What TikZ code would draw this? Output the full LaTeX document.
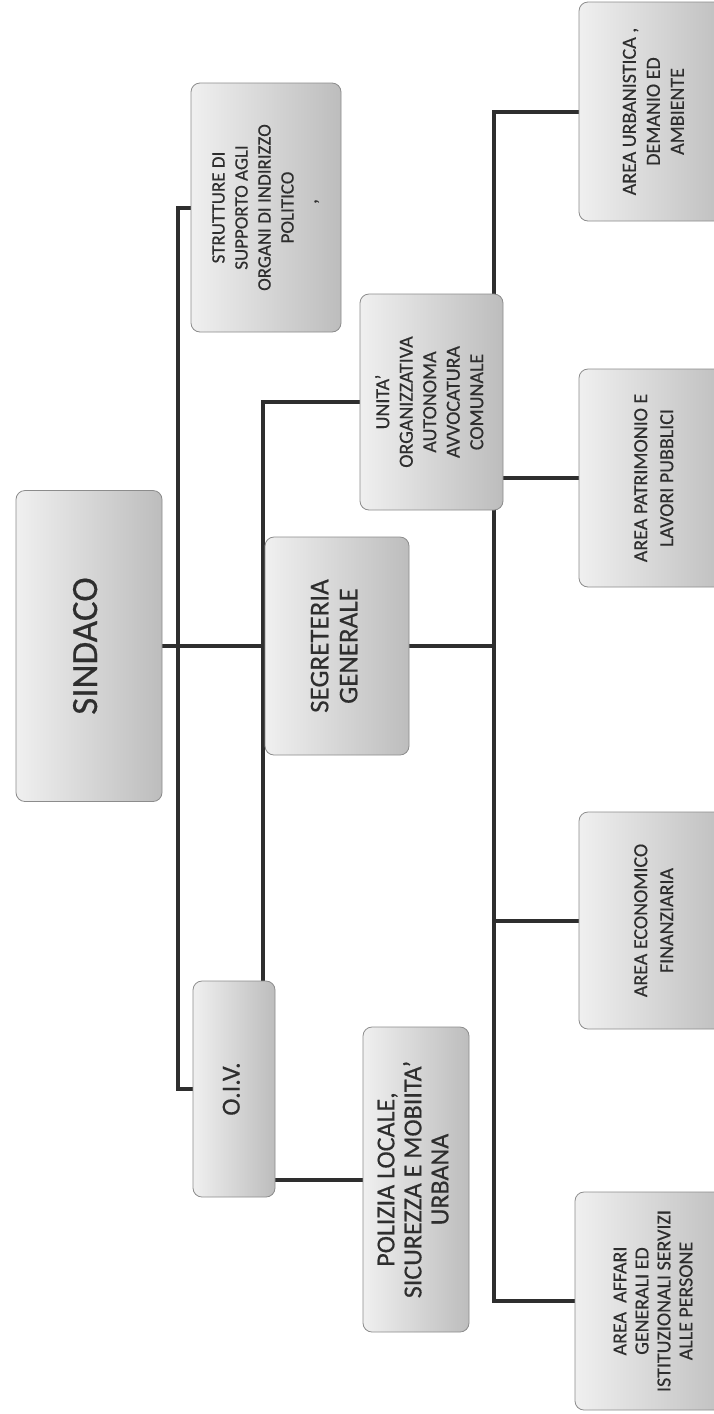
\documentclass[tikz,border=0pt]{standalone}
\usepackage{fontspec}
\setmainfont{Carlito}[FakeBold=0.4]
\usetikzlibrary{backgrounds,calc}
\definecolor{ink}{HTML}{2E2E2E}
\tikzset{
  box/.style={draw=black!45, line width=0.8pt, rounded corners=9pt,
    left color=black!6, right color=black!26, inner sep=0pt, text=ink},
  conn/.style={draw=ink, line width=4pt},
}
\newcommand{\rtext}[3]{\rotatebox{90}{\fontsize{#1}{#2}\selectfont\begin{tabular}{@{}c@{}}#3\end{tabular}}}
\begin{document}
\begin{tikzpicture}[x=1pt,y=-1pt]
\useasboundingbox (0,0) rectangle (714,1414);
% boxes
\node[box, minimum width=146pt, minimum height=311pt] (sindaco) at (89,646)
  {\rtext{37}{40}{SINDACO}};
\node[box, minimum width=144pt, minimum height=218pt] (segr) at (337,646)
  {\rtext{27}{29}{SEGRETERIA\\GENERALE}};
\node[box, minimum width=150pt, minimum height=249pt] (strutt) at (266,207.5)
  {\rtext{19}{23}{STRUTTURE DI\\SUPPORTO AGLI\\ORGANI DI INDIRIZZO\\POLITICO\\\hspace*{12pt},}};
\node[box, minimum width=143pt, minimum height=216pt] (unita) at (431.5,402)
  {\rtext{20}{23.5}{UNITA’\\ORGANIZZATIVA\\AUTONOMA\\AVVOCATURA\\COMUNALE}};
\node[box, minimum width=82pt, minimum height=216pt] (oiv) at (234,1089)
  {\rtext{26}{28}{O.I.V.}};
\node[box, minimum width=106pt, minimum height=305pt] (polizia) at (416,1179.5)
  {\rtext{26}{27}{POLIZIA LOCALE,\\SICUREZZA E MOBIITA’\\URBANA}};
\node[box, minimum width=152pt, minimum height=219pt] (urban) at (655,111.5)
  {\rtext{20}{24}{AREA URBANISTICA ,\\DEMANIO ED\\AMBIENTE}};
\node[box, minimum width=152pt, minimum height=218pt] (patrim) at (655,478)
  {\rtext{20}{26}{AREA PATRIMONIO E\\LAVORI PUBBLICI}};
\node[box, minimum width=152pt, minimum height=217pt] (econ) at (655,920.5)
  {\rtext{20}{26}{AREA ECONOMICO\\FINANZIARIA}};
\node[box, minimum width=160pt, minimum height=218pt] (affari) at (655,1301)
  {\rtext{20}{22}{AREA~~AFFARI\\GENERALI ED\\ISTITUZIONALI SERVIZI\\ALLE PERSONE}};
\coordinate (t3) at (494,0);
% connectors
\begin{scope}[on background layer]
\fill[white] (0,0) rectangle (714,1414);
\draw[conn] (strutt.west) -- ++(-13,0) |- (oiv.west);
\draw[conn] (sindaco.east) -- (segr.west);
\draw[conn] (unita.west) -| ([xshift=-12pt]oiv.north east);
\draw[conn] (polizia.west) -- (polizia.west -| oiv.east);
\draw[conn] (urban.west) -- (urban.west -| t3) |- (affari.west);
\draw[conn] (segr.east) -- (segr.east -| t3);
\draw[conn] (patrim.west) -- (patrim.west -| t3);
\draw[conn] (econ.west) -- (econ.west -| t3);
\end{scope}
\end{tikzpicture}
\end{document}
